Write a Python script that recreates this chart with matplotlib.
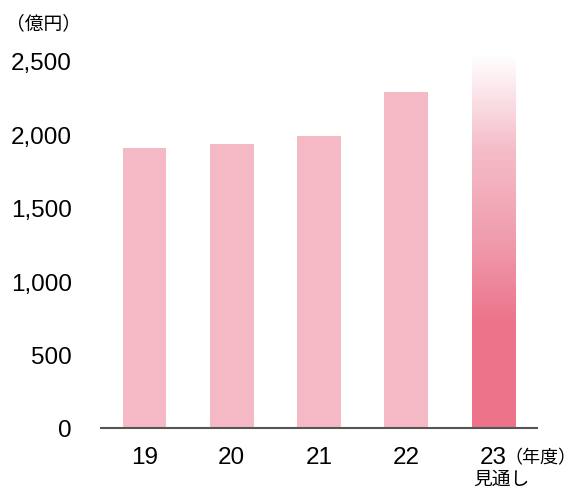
import numpy as np
import matplotlib.pyplot as plt
from matplotlib.colors import LinearSegmentedColormap

plt.rcParams['font.family'] = ['Liberation Sans', 'Noto Sans CJK JP']
jp = ['Noto Sans CJK JP', 'Liberation Sans']

years = ['19', '20', '21', '22', '23']
sales = [1905, 1932, 1990, 2290, 2540]   # 億円, last one is the forecast
forecast_idx = 4

bar_color = '#F5B9C5'
forecast_bottom = '#EC7389'

fig = plt.figure(figsize=(5.77, 4.89), dpi=100)
ax = fig.add_axes([0.175, 0.1227, 0.7556, 0.7806])

x = np.arange(len(years))
bars = ax.bar(x, sales, width=0.5, color=bar_color, zorder=2)

# forecast bar: fade from deep pink at the bottom to white at the top
fb = bars[forecast_idx]
fb.set_facecolor('none')
cmap = LinearSegmentedColormap.from_list(
    'fade', [(0, 'white'), (0.25, '#F5BDC9'), (0.5, '#F09CAD'),
             (0.72, forecast_bottom), (1, forecast_bottom)])
grad = np.linspace(0, 1, 256).reshape(-1, 1)
top = sales[forecast_idx]
img = ax.imshow(grad, cmap=cmap, aspect='auto', origin='upper',
                extent=[fb.get_x(), fb.get_x() + fb.get_width(), 0, top],
                zorder=2)
img.set_clip_path(fb)

ax.set_xlim(-0.5, 4.5)
ax.set_ylim(0, 2600)
ax.set_yticks([0, 500, 1000, 1500, 2000, 2500])
ax.set_yticklabels(['0', '500', '1,000', '1,500', '2,000', '2,500'])
ax.set_xticks(x)
ax.set_xticklabels(years)
ax.tick_params(axis='y', length=0, pad=21, labelsize=17.5)
ax.tick_params(axis='x', length=0, pad=13, labelsize=17.5)

for side in ['left', 'right', 'top']:
    ax.spines[side].set_visible(False)
ax.spines['bottom'].set_color('#555555')
ax.spines['bottom'].set_linewidth(1.5)
ax.spines['bottom'].set_zorder(3)

fig.text(6 / 577, 1 - 23.5 / 489, '（億円）', fontsize=13.5, family=jp, va='center', ha='left')
fig.text(504 / 577, 1 - 458 / 489, '（年度）', fontsize=13, family=jp, va='center', ha='left')
fig.text(501 / 577, 1 - 479 / 489, '見通し', fontsize=13.5, family=jp, va='center', ha='center')

fig.savefig('out.png', dpi=100)
